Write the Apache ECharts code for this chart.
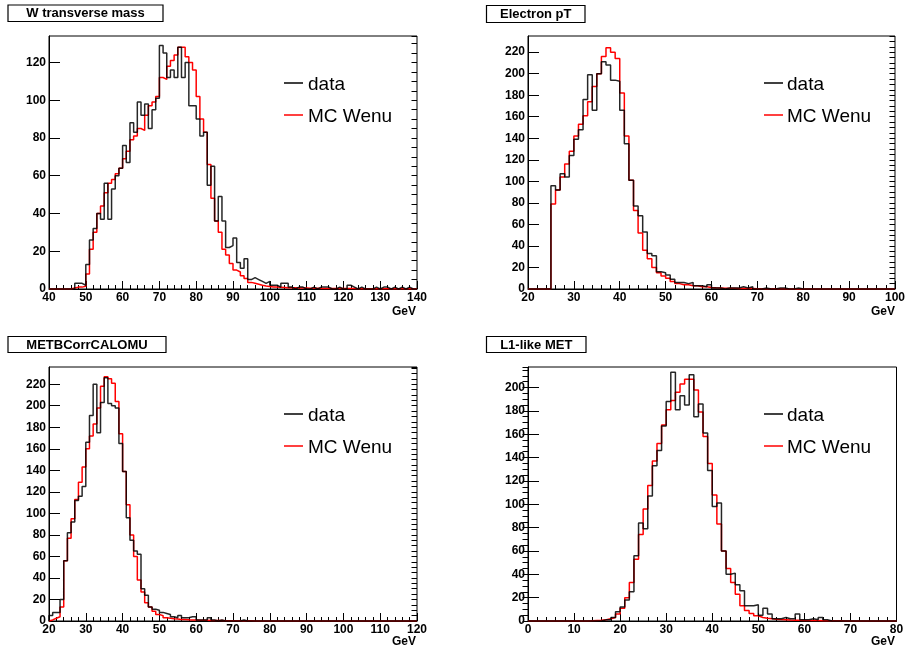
<!DOCTYPE html>
<html><head><meta charset="utf-8">
<script src="https://cdn.jsdelivr.net/npm/echarts@6/dist/echarts.min.js"></script>
<style>html,body{margin:0;padding:0;background:#fff}#c{width:908px;height:650px}</style>
</head><body><div id="c"></div>
<script>
// ---------- data (1 GeV bins) ----------
const wmtStart = 40, wmtBin = 1;
const wmtData = [0,0,0,0,0,0,0,3,3,2,
 13,26,32,40,37,56,37,53,60,64,
 76,67,88,83,99,92,98,85,95,101,
 129,125,112,116,112,128,112,120,97,97,
 90,81,83,55,65,36,49,36,22,23,
 27,14,11,16,5,6,5,4,3,4,
 2,2,1,3,3,1,0,1,1,0,
 0,1,0,1,1,1,0,0,1,0,
 0,2,1,0,1,0,0,0,1,0,
 1,1,0,1,0,1,0,1,0,0];
const wmtMC = [0,0,0,0,0,0,0.5,1,1,1.5,
 8,21,30,40,44,51,56,58,61,64,
 69,73,79,81,85,84,92,97,99,102,
 112,111,118,121,124,128,128,123,120,116,
 102,90,83,66,48,36,30,21,18,13.5,
 10,9,7,5.5,3.5,3,2.5,2,1.6,1.3,
 1.1,1,0.9,0.8,0.7,0.6,0.6,0.5,0.5,0.5,
 0.4,0.4,0.4,0.3,0.3,0.3,0.3,0.2,0.2,0.2,
 0.2,0.2,0.2,0.1,0.1,0.1,0.1,0.1,0.1,0.1,
 0.1,0.1,0.1,0.1,0.1,0.1,0.1,0.1,0.1,0.1];

const elptStart = 20, elptBin = 1;
const elptData = [0,0,0,0,0,96,92,107,104,124,
 139,148,176,199,166,200,211,208,194,193,
 166,135,101,77,68,53,33,31,16,15,
 13,9,6,6,5,6,3,3,2,4,
 1,1,0,1,1,1,2,1,2,0,
 0,1,0,0,1,1,0,0,1,0,
 0,0,0,0,0,0,0,0,0,0,
 0,0,0,0,0,0,0,0,0,0];
const elptMC = [0,0,0,0,0,79,92,104,116,128,
 142,153,161,174,188,200,216,224,220,214,
 182,142,101,73,52,36,28,20,15,12,
 10,7,5,4,4,3,3,2,2,1.5,
 1.2,1,0.8,0.7,0.6,0.5,0.5,0.4,0.4,0.3,
 0.3,0.3,0.2,0.2,0.2,0.2,0.1,0.1,0.1,0.1,
 0.1,0.1,0.1,0.1,0.1,0.1,0.1,0.1,0.1,0.1,
 0.1,0.1,0.1,0.1,0.1,0.1,0.1,0.1,0.1,0.1];

const metStart = 20, metBin = 1;
const metData = [5,8,8,20,56,82,92,112,116,125,
 166,191,220,175,203,226,202,200,198,165,
 139,96,75,65,62,30,24,13,11,10,
 8,7,6,4,3,5,3,3,4,4,
 1,1,1,3,1,0,1,0,0,0,
 0,0,1,0,0,0,0,0,0,0,
 0,0,0,0,0,0,0,0,0,0,
 0,0,0,0,0,0,0,0,0,0,
 0,0,0,0,0,0,0,0,0,0,
 0,0,0,0,0,0,0,0,0,0];
const metMC = [1,2.5,4,13,56,77,95,113,129,143,
 160,172,183,198,218,227,225,221,204,174,
 139,108,80,60,38,27,17,13,9,6,
 5,3,2.5,2,1.8,1.5,1.3,1.1,1,0.9,
 0.8,0.7,0.6,0.5,0.5,0.4,0.4,0.3,0.3,0.3,
 0.2,0.2,0.2,0.2,0.2,0.1,0.1,0.1,0.1,0.1,
 0.1,0.1,0.1,0.1,0.1,0.1,0.1,0.1,0.1,0.1,
 0.1,0.1,0.1,0.1,0.1,0.1,0.1,0.1,0.1,0.1,
 0.1,0.1,0.1,0.1,0.1,0.1,0.1,0.1,0.1,0.1,
 0.1,0.1,0.1,0.1,0.1,0.1,0.1,0.1,0.1,0.1];

const l1Start = 0, l1Bin = 1;
const l1Data = [0,0,0,0,0,0,0,0,0,0,
 0,0,0,0,0,0,1,1,3,8,
 12,18,25,56,84,79,107,133,146,167,
 188,213,181,193,185,211,175,186,161,129,
 98,101,60,40,41,31,26,13,13,14,
 5,11,6,2,2,3,2,2,6,1,
 1,2,1,3,1,0,0,0,0,0,
 0,0,0,0,0,0,0,0,0,0];
const l1MC = [0,0,0,0,0,0,0,0,0,0,
 0,0,0,0.3,0.5,0.7,1,2,3,6,
 11,20,33,53,74,96,116,137,152,168,
 181,189,196,203,207,207,198,179,158,135,
 108,83,60,45,33,23,13,9,6.5,4.5,
 3,2.3,2,1.5,1.2,1,0.8,0.7,0.6,0.5,
 0.5,0.4,0.4,0.3,0.3,0.2,0.2,0.2,0.1,0.1,
 0.1,0.1,0.1,0.1,0.1,0.1,0.1,0.1,0.1,0.1];

const titles = ['W transverse mass', 'Electron pT', 'METBCorrCALOMU', 'L1-like MET'];
const xRanges = [[40,140],[20,100],[20,120],[0,80]];
const yMaxes = [134, 235, 236, 217.6];
const legendLabels = ['data', 'MC Wenu'];
const xUnit = 'GeV';

// ---------- layout ----------
const panels = [
  {data: wmtData, mc: wmtMC, x0: wmtStart, w: wmtBin,
   grid: {left: 49, top: 36, width: 368, height: 253},
   tbox: [8, 5, 155, 16.5], leg: [284, 303, 308, 83, 115], gev: [416, 312]},
  {data: elptData, mc: elptMC, x0: elptStart, w: elptBin,
   grid: {left: 528, top: 36, width: 368.5, height: 253},
   tbox: [486.5, 5.5, 98.5, 17], leg: [764, 783, 787, 83, 115], gev: [895, 312]},
  {data: metData, mc: metMC, x0: metStart, w: metBin,
   grid: {left: 49, top: 367, width: 368, height: 254},
   tbox: [8, 336.5, 158, 16], leg: [284, 303, 308, 414, 446], gev: [416, 642]},
  {data: l1Data, mc: l1MC, x0: l1Start, w: l1Bin,
   grid: {left: 528, top: 367, width: 368.5, height: 254},
   tbox: [486.5, 336.5, 99.5, 16], leg: [764, 783, 787, 414, 446], gev: [895, 642]}
];

function steps(arr, x0, w) {
  const pts = [[x0, 0]];
  arr.forEach((v, i) => pts.push([x0 + i * w, v]));
  pts.push([x0 + arr.length * w, arr[arr.length - 1]]);
  pts.push([x0 + arr.length * w, 0]);
  return pts;
}

const FONT = 'Liberation Sans';
const grids = [], xAxes = [], yAxes = [], series = [], graphics = [];

panels.forEach((p, i) => {
  grids.push(Object.assign({show: true, borderColor: '#000', borderWidth: 1, backgroundColor: 'transparent'}, p.grid));
  // main x axis
  xAxes.push({
    type: 'value', gridIndex: i, min: xRanges[i][0], max: xRanges[i][1], interval: 10,
    axisLine: {show: true, onZero: false, lineStyle: {color: '#000', width: 1}},
    axisTick: {show: true, inside: true, length: 8, lineStyle: {color: '#000'}},
    minorTick: {show: true, splitNumber: 5, length: 4, lineStyle: {color: '#000'}},
    axisLabel: {color: '#000', fontWeight: 'bold', fontSize: 12, fontFamily: FONT, margin: 3},
    splitLine: {show: false}, minorSplitLine: {show: false}
  });
  // main y axis (major ticks + labels)
  yAxes.push({
    type: 'value', gridIndex: i, min: 0, max: yMaxes[i], interval: 20,
    axisLine: {show: true, onZero: false, lineStyle: {color: '#000', width: 1}},
    axisTick: {show: true, inside: true, length: 11, lineStyle: {color: '#000'}},
    axisLabel: {color: '#000', fontWeight: 'bold', fontSize: 12, fontFamily: FONT, margin: 3,
      showMaxLabel: false, formatter: v => (Math.abs(v % 20) < 1e-6 ? String(v) : '')},
    splitLine: {show: false}
  });
});
// minor y-tick axes
panels.forEach((p, i) => {
  yAxes.push({
    type: 'value', gridIndex: i, min: 0, max: yMaxes[i], interval: 5,
    axisLine: {show: false}, axisLabel: {show: false}, splitLine: {show: false},
    axisTick: {show: true, inside: true, length: 5.5, lineStyle: {color: '#000'}}
  });
});

panels.forEach((p, i) => {
  series.push({
    type: 'line', xAxisIndex: i, yAxisIndex: i, step: 'end', showSymbol: false, silent: true,
    clip: true, data: steps(p.mc, p.x0, p.w), lineStyle: {color: '#ff0000', width: 1.5}, z: 2
  });
  series.push({
    type: 'line', xAxisIndex: i, yAxisIndex: i, step: 'end', showSymbol: false, silent: true,
    clip: true, data: steps(p.data, p.x0, p.w), lineStyle: {color: '#000', width: 1.5, opacity: 0.85}, z: 3
  });
  const [bx, by, bw, bh] = p.tbox;
  graphics.push({type: 'rect', shape: {x: bx, y: by, width: bw, height: bh},
    style: {fill: '#fff', stroke: '#000', lineWidth: 1.2}, z: 10});
  graphics.push({type: 'text', x: bx + bw / 2, y: by + bh / 2 + 0.5, z: 11,
    style: {text: titles[i], fill: '#000', font: 'bold 13px "' + FONT + '"', align: 'center', verticalAlign: 'middle'}});
  const [lx1, lx2, tx, y1, y2] = p.leg;
  graphics.push({type: 'line', shape: {x1: lx1, y1: y1, x2: lx2, y2: y1}, style: {stroke: '#000', lineWidth: 1.5}, z: 10});
  graphics.push({type: 'line', shape: {x1: lx1, y1: y2, x2: lx2, y2: y2}, style: {stroke: '#ff0000', lineWidth: 1.5}, z: 10});
  graphics.push({type: 'text', x: tx, y: y1 + 2, z: 11,
    style: {text: legendLabels[0], fill: '#000', font: '19px "' + FONT + '"', align: 'left', verticalAlign: 'middle'}});
  graphics.push({type: 'text', x: tx, y: y2 + 2, z: 11,
    style: {text: legendLabels[1], fill: '#000', font: '19px "' + FONT + '"', align: 'left', verticalAlign: 'middle'}});
  graphics.push({type: 'text', x: p.gev[0], y: p.gev[1], z: 11,
    style: {text: xUnit, fill: '#000', font: 'bold 12px "' + FONT + '"', align: 'right', verticalAlign: 'middle'}});
});

const chart = echarts.init(document.getElementById('c'), null, {renderer: 'canvas'});
chart.setOption({
  animation: false,
  backgroundColor: '#fff',
  grid: grids, xAxis: xAxes, yAxis: yAxes, series: series, graphic: graphics
});
</script></body></html>
